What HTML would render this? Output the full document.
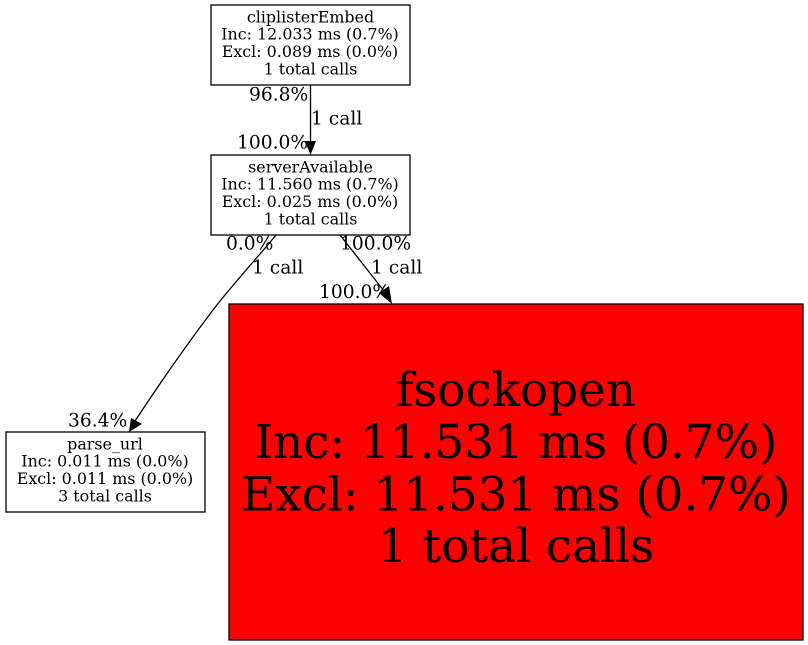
<!DOCTYPE html>
<html><head><meta charset="utf-8"><style>
html,body{margin:0;padding:0;background:#fff}
svg{display:block}
text{font-family:"DejaVu Serif",serif;fill:#000}
.n{font-size:15.9px;text-anchor:middle}
.e{font-size:18.67px}
.b{font-size:46.8px;text-anchor:middle}
</style></head><body>
<svg width="808" height="645" viewBox="0 0 808 645" xmlns="http://www.w3.org/2000/svg">
<rect x="211" y="5" width="199" height="80" fill="#fff" stroke="#000" stroke-width="1.300"/>
<text class="n" x="310.500" y="22.500">cliplisterEmbed</text>
<text class="n" x="310" y="39.500">Inc: 12.033 ms (0.7%)</text>
<text class="n" x="310" y="57">Excl: 0.089 ms (0.0%)</text>
<text class="n" x="310.500" y="74.500">1 total calls</text>
<rect x="211" y="155" width="199" height="80" fill="#fff" stroke="#000" stroke-width="1.300"/>
<text class="n" x="310.500" y="172.500">serverAvailable</text>
<text class="n" x="310" y="189.500">Inc: 11.560 ms (0.7%)</text>
<text class="n" x="310" y="207">Excl: 0.025 ms (0.0%)</text>
<text class="n" x="310.500" y="224.500">1 total calls</text>
<rect x="6" y="432" width="199" height="80" fill="#fff" stroke="#000" stroke-width="1.300"/>
<text class="n" x="105" y="449.500">parse_url</text>
<text class="n" x="105" y="466.500">Inc: 0.011 ms (0.0%)</text>
<text class="n" x="105" y="484">Excl: 0.011 ms (0.0%)</text>
<text class="n" x="105" y="501.500">3 total calls</text>
<rect x="229" y="304" width="574" height="336" fill="#f00" stroke="#000" stroke-width="1.300"/>
<text class="b" x="516" y="406">fsockopen</text>
<text class="b" x="516" y="458">Inc: 11.531 ms (0.7%)</text>
<text class="b" x="516" y="510.500">Excl: 11.531 ms (0.7%)</text>
<text class="b" x="516" y="562">1 total calls</text>
<path d="M310.500 85V142" fill="none" stroke="#000" stroke-width="1.300"/>
<polygon points="305,141 316,141 310.500,155" fill="#000"/>
<path d="M276 235C259 256 232 285 213 310C188 343 158 386 135 421" fill="none" stroke="#000" stroke-width="1.300"/>
<polygon points="129,432 131,418 142,424" fill="#000"/>
<path d="M340 235L384 291" fill="none" stroke="#000" stroke-width="1.300"/>
<polygon points="392,304 379,293 389,286" fill="#000"/>
<text class="e" x="249" y="100.500">96.8%</text>
<text class="e" x="311" y="124.500">1 call</text>
<text class="e" x="237" y="148.500">100.0%</text>
<text class="e" x="226" y="249.500">0.0%</text>
<text class="e" x="252" y="273.500">1 call</text>
<text class="e" x="340" y="249.500">100.0%</text>
<text class="e" x="371" y="273.500">1 call</text>
<text class="e" x="319" y="298">100.0%</text>
<text class="e" x="68" y="426.500">36.4%</text>
</svg>
</body></html>
